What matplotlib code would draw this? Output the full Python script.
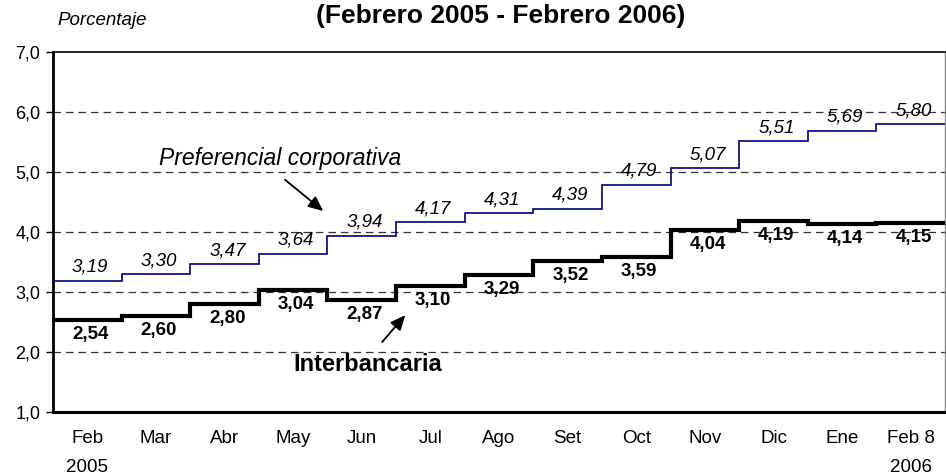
import numpy as np
import matplotlib
matplotlib.use("Agg")
import matplotlib.pyplot as plt

plt.rcParams['font.family'] = ['Liberation Sans', 'DejaVu Sans']

# Datos (tasas en porcentaje)
meses = ["Feb", "Mar", "Abr", "May", "Jun", "Jul", "Ago", "Set", "Oct",
         "Nov", "Dic", "Ene", "Feb 8"]
preferencial = [3.19, 3.30, 3.47, 3.64, 3.94, 4.17, 4.31, 4.39, 4.79,
                5.07, 5.51, 5.69, 5.80]
interbancaria = [2.54, 2.60, 2.80, 3.04, 2.87, 3.10, 3.29, 3.52, 3.59,
                 4.04, 4.19, 4.14, 4.15]
yticks = [1, 2, 3, 4, 5, 6, 7]


def fmt(v, dec=2):
    return f"{v:.{dec}f}".replace(".", ",")


fig = plt.figure(figsize=(9.46, 4.75), dpi=100)
ax = fig.add_axes([0.056, 0.1326, 0.943, 0.758])

n = len(meses)
edges = np.arange(n + 1)
centers = np.arange(n) + 0.5

# series escalonadas: cada mes ocupa un tramo horizontal
ax.stairs(preferencial, edges, color="#000080", linewidth=1.2, baseline=None, zorder=3)
ax.stairs(interbancaria, edges, color="black", linewidth=3.0, baseline=None, zorder=3)

for x, v in zip(centers, preferencial):
    ax.annotate(fmt(v), (x, v), xytext=(2, 9.5), textcoords="offset points",
                ha="center", va="center", fontsize=13.5, style="italic")
for x, v in zip(centers, interbancaria):
    ax.annotate(fmt(v), (x, v), xytext=(2, -10.5), textcoords="offset points",
                ha="center", va="center", fontsize=13.5, fontweight="bold")

# etiquetas de las series con flecha
ax.annotate("", xy=(3.97, 4.32), xytext=(3.35, 4.9),
            arrowprops=dict(arrowstyle="-|>,head_length=0.9,head_width=0.4",
                            color="black", lw=1.3))
ax.text(3.31, 5.23, "Preferencial corporativa", ha="center", va="center",
        fontsize=16.5, style="italic")
ax.annotate("", xy=(5.16, 2.65), xytext=(4.77, 2.13),
            arrowprops=dict(arrowstyle="-|>,head_length=0.9,head_width=0.4",
                            color="black", lw=1.3))
ax.text(4.58, 1.8, "Interbancaria", ha="center", va="center",
        fontsize=17, fontweight="bold")

ax.set_xlim(0, n)
ax.set_ylim(1, 7)
ax.set_yticks(yticks)
ax.set_yticklabels([fmt(t, 1) for t in yticks], fontsize=13)
ax.set_xticks(centers)
ax.set_xticklabels(meses, fontsize=13.5)
ax.tick_params(axis="x", length=0, pad=13)
ax.tick_params(axis="y", length=5, width=1, direction="out", pad=4)

for t in yticks[1:-1]:
    ax.axhline(t, color="#333333", lw=0.9, ls=(0, (6, 4)), zorder=1)

ax.spines["left"].set_linewidth(2)
ax.spines["bottom"].set_linewidth(2.2)
ax.spines["top"].set_linewidth(1.2)
ax.spines["right"].set_linewidth(1)
ax.spines["right"].set_color("#888888")

# años bajo los meses extremos
ax.text(centers[0], -0.153, "2005", transform=ax.get_xaxis_transform(),
        ha="center", va="center", fontsize=13.5)
ax.text(centers[-1], -0.153, "2006", transform=ax.get_xaxis_transform(),
        ha="center", va="center", fontsize=13.5)

fig.text(0.529, 0.966, "(Febrero 2005 - Febrero 2006)", ha="center", va="center",
         fontsize=19, fontweight="bold")
fig.text(0.061, 0.956, "Porcentaje", ha="left", va="center",
         fontsize=13.5, style="italic")

fig.savefig("out.png", dpi=100)
